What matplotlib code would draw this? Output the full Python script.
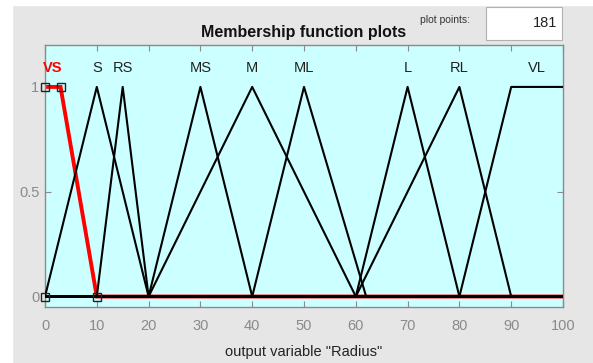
import matplotlib
matplotlib.use("Agg")
import matplotlib.pyplot as plt
from matplotlib.patches import Rectangle

plt.rcParams['font.family'] = ['Liberation Sans', 'DejaVu Sans']

# ---------- data: membership functions of output "Radius" ----------
mf_names = ["VS", "S", "RS", "MS", "M", "ML", "L", "RL", "VL"]
mf_types = ["trap", "tri", "tri", "tri", "tri", "tri", "tri", "tri", "trap"]
mf_params = [
    [0, 0, 3, 10],
    [0, 10, 20],
    [10, 15, 20],
    [20, 30, 40],
    [20, 40, 60],
    [40, 50, 62],
    [60, 70, 80],
    [60, 80, 90],
    [80, 90, 100, 100],
]
selected = "VS"
x_range = [0, 100]
x_ticks = [0, 10, 20, 30, 40, 50, 60, 70, 80, 90, 100]
y_ticks = [0, 0.5, 1]
plot_points = 181

BG = "#e6e6e6"
AX_BG = "#ccffff"
GREY = "#8a8a8a"


def vertices(kind, p):
    # polyline through the MF corner points, over the whole range
    if kind == "tri":
        a, b, c = p
        xs, ys = [a, b, c], [0, 1, 0]
    else:
        a, b, c, d = p
        xs, ys = [a, b, c, d], [0, 1, 1, 0]
    # shoulders at the range ends: no vertical drop (sampled curve)
    if xs[0] == xs[1]:
        xs, ys = xs[1:], ys[1:]
    if xs[-1] == xs[-2]:
        xs, ys = xs[:-1], ys[:-1]
    if xs[0] > x_range[0]:
        xs, ys = [x_range[0]] + xs, [0] + ys
    if xs[-1] < x_range[1]:
        xs, ys = xs + [x_range[1]], ys + [0]
    return xs, ys


fig = plt.figure(figsize=(5.93, 3.63), dpi=100, facecolor=BG)
fig.patches.append(Rectangle((0, 0), 12 / 593, 1, transform=fig.transFigure,
                             color="white", zorder=0))
fig.patches.append(Rectangle((0, 1 - 5 / 363), 1, 5 / 363, transform=fig.transFigure,
                             color="white", zorder=0))

ax = fig.add_axes([45 / 593, 56 / 363, 518 / 593, 262 / 363])
ax.set_facecolor(AX_BG)

for name, kind, p in zip(mf_names, mf_types, mf_params):
    xs, ys = vertices(kind, p)
    if name == selected:
        ax.plot(xs, ys, color="red", lw=2.8, zorder=2, solid_joinstyle="miter")
        my = [0, 1, 1, 0] if kind == "trap" else [0, 1, 0]
        ax.plot(p, my, ls="none", marker="s", ms=6, mfc="none", mec="#222222",
                mew=1.0, zorder=5, clip_on=False)
    else:
        ax.plot(xs, ys, color="black", lw=1.5, zorder=3)

    lx = p[1] if kind == "tri" else (p[1] + p[2]) / 2
    if name == selected:
        ax.text(lx, 1.09, name, color="red", fontsize=10.5, fontweight="bold",
                ha="center", va="center")
    else:
        ax.text(lx, 1.09, name, color="#222222", fontsize=10.5,
                ha="center", va="center")

ax.set_xlim(x_range)
ax.set_ylim(-0.05, 1.2)
ax.set_xticks(x_ticks)
ax.set_yticks(y_ticks)
ax.set_yticklabels(["0", "0.5", "1"])
ax.tick_params(direction="in", colors=GREY, labelcolor=GREY, labelsize=10.5,
               top=True, right=True, length=4, width=0.8)
ax.tick_params(axis="x", pad=9)
ax.tick_params(axis="y", pad=4)
for s in ax.spines.values():
    s.set_color(GREY)
    s.set_linewidth(1.0)

ax.set_xlabel('output variable "Radius"', fontsize=10.5, color="#222222", labelpad=8)

fig.text(304 / 593, 1 - 32 / 363, "Membership function plots", fontsize=11.5,
         fontweight="bold", ha="center", va="center", color="#111111")
fig.text(445 / 593, 1 - 20 / 363, "plot points:", fontsize=7.5,
         ha="center", va="center", color="#333333")
fig.patches.append(Rectangle((486 / 593, 1 - 40 / 363), 76 / 593, 33 / 363,
                             transform=fig.transFigure, facecolor="white",
                             edgecolor="#b0b0b0", lw=0.8, zorder=1))
fig.text(557 / 593, 1 - 23 / 363, str(plot_points), fontsize=10.5,
         ha="right", va="center", color="#222222")

fig.savefig("out.png", dpi=100, facecolor=BG)
